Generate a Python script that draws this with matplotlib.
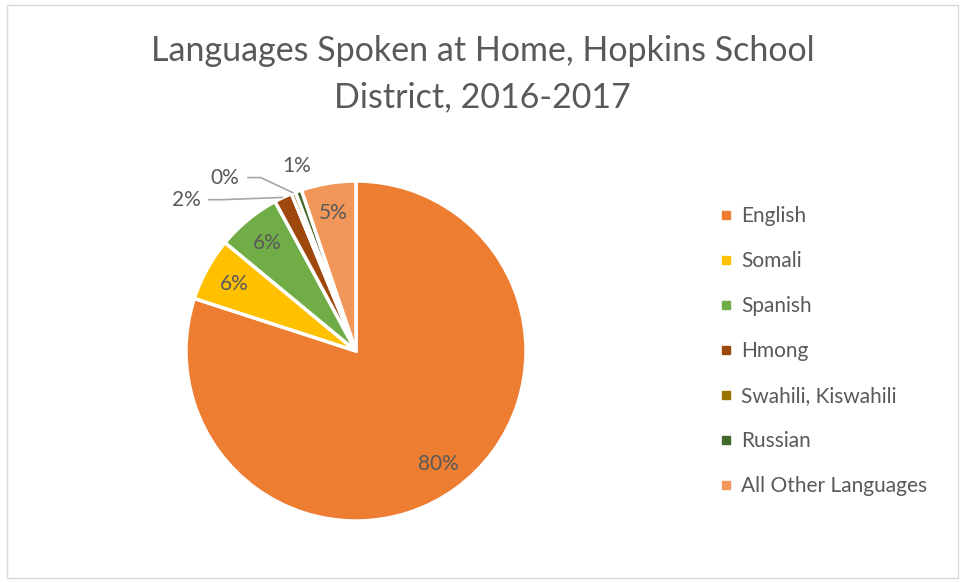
import matplotlib
matplotlib.use("Agg")
import matplotlib.pyplot as plt
import numpy as np
from matplotlib.patches import Rectangle
from matplotlib.lines import Line2D

title = "Languages Spoken at Home, Hopkins School\nDistrict, 2016-2017"
languages = ["English", "Somali", "Spanish", "Hmong", "Swahili, Kiswahili", "Russian", "All Other Languages"]
shares = [80.0, 6.0, 6.1, 1.7, 0.4, 0.6, 5.2]
pct_labels = ["80%", "6%", "6%", "2%", "0%", "1%", "5%"]
colors = ["#ED7D31", "#FFC000", "#70AD47", "#9E480E", "#997300", "#43682B", "#F1975A"]

# outside-label placement (radius units, relative to pie centre) for the small slices
outside = {3: (-1.00, 0.89), 4: (-0.77, 1.02), 5: (-0.35, 1.09)}

plt.rcParams['font.family'] = ['Lato', 'DejaVu Sans']
txt = "#595959"

W, H = 965, 583
fig = plt.figure(figsize=(W / 100, H / 100), dpi=100)
fig.patches.append(Rectangle((7 / W, 5 / H), 951 / W, 573 / H, transform=fig.transFigure,
                             fill=False, edgecolor="#d9d9d9", linewidth=1))

cx, cy, r = 356, 351, 170
ax = fig.add_axes([(cx - r) / W, (H - cy - r) / H, 2 * r / W, 2 * r / H])
wedges, _ = ax.pie(shares, colors=colors, startangle=90, counterclock=False,
                   wedgeprops=dict(edgecolor="white", linewidth=2.5))
ax.set_xlim(-1, 1)
ax.set_ylim(-1, 1)
ax.set_aspect("equal")
ax.axis("off")

fs = 15
for i, w in enumerate(wedges):
    mid = np.deg2rad((w.theta1 + w.theta2) / 2)
    if i in outside:
        tx, ty = outside[i]
        ax.text(tx, ty, pct_labels[i], ha="center", va="center", fontsize=fs, color=txt,
                clip_on=False)
        if i != 5:
            ex, ey = np.cos(mid) * 1.0, np.sin(mid) * 1.0
            sx = tx + 0.13
            ax.plot([sx, sx + 0.08, ex], [ty, ty, ey], color="#a6a6a6", lw=1.2,
                    clip_on=False, solid_capstyle="butt")
    else:
        d = 0.82
        ax.text(np.cos(mid) * d, np.sin(mid) * d, pct_labels[i], ha="center", va="center",
                fontsize=fs, color=txt)

fig.text(0.5, 1 - 74 / H, title, ha="center", va="center", fontsize=24.5, color=txt,
         linespacing=1.55)

handles = [Line2D([0], [0], marker="s", linestyle="none", markersize=6,
                  markerfacecolor=c, markeredgecolor=c) for c in colors]
leg = fig.legend(handles, languages, loc="upper left", bbox_to_anchor=(705 / W, 1 - 196 / H),
                 frameon=False, fontsize=15, labelcolor=txt, handletextpad=0.25,
                 labelspacing=1.2, handlelength=1.0, borderpad=0)

fig.savefig("out.png", dpi=100)
